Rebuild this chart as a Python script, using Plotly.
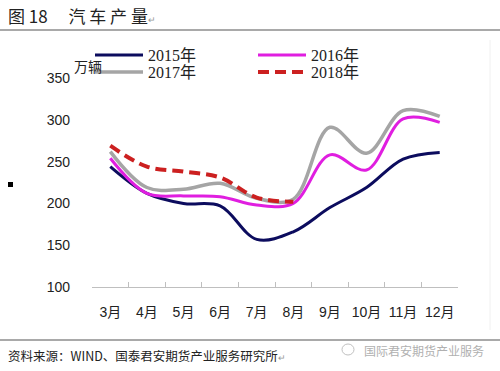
import plotly.graph_objects as go

months = ["3月", "4月", "5月", "6月", "7月", "8月", "9月", "10月", "11月", "12月"]
y2015 = [244, 212, 200, 197, 157, 166, 195, 219, 253, 261]
y2016 = [254, 212, 209, 208, 198, 200, 258, 240, 301, 297]
y2017 = [262, 219, 217, 224, 206, 205, 291, 260, 311, 304]
y2018 = [269, 244, 238, 231, 207, 202]
series_names = ["2015年", "2016年", "2017年", "2018年"]
yticks = [100, 150, 200, 250, 300, 350]

PT, PB, PL, PR = 78, 84, 92, 42
W, H = 500, 371
PW, PH = W - PL - PR, H - PT - PB


def px(x):
    return (x - PL) / PW


def py(y):
    return (H - PB - y) / PH


fig = go.Figure()
fig.add_trace(go.Scatter(x=months, y=y2015, name=series_names[0], mode="lines", legend="legend",
                         line=dict(color="#0c0c5e", width=3, shape="spline", smoothing=1)))
fig.add_trace(go.Scatter(x=months, y=y2016, name=series_names[1], mode="lines", legend="legend",
                         line=dict(color="#e01ee0", width=3, shape="spline", smoothing=1)))
fig.add_trace(go.Scatter(x=months, y=y2017, name=series_names[2], mode="lines", legend="legend2",
                         line=dict(color="#a5a5a5", width=3.5, shape="spline", smoothing=1)))
fig.add_trace(go.Scatter(x=months[:len(y2018)], y=y2018, name=series_names[3], mode="lines", legend="legend2",
                         line=dict(color="#cc2020", width=4, dash="11px,6px", shape="spline", smoothing=1)))

legend_common = dict(orientation="h", xanchor="left", yanchor="middle",
                     entrywidth=100, entrywidthmode="pixels", itemwidth=48,
                     font=dict(family="Liberation Serif, Noto Sans CJK SC", size=16, color="#222"),
                     bgcolor="rgba(0,0,0,0)", borderwidth=0)

fig.update_layout(
    width=W, height=H,
    margin=dict(l=PL, r=PR, t=PT, b=PB, autoexpand=False),
    paper_bgcolor="white", plot_bgcolor="white",
    showlegend=True,
    legend=dict(x=px(90), y=py(55), **legend_common),
    legend2=dict(x=px(90), y=py(72), **legend_common),
    xaxis=dict(showgrid=False, showline=True, linecolor="#bfbfbf", linewidth=1,
               ticks="inside", ticklen=5, tickcolor="#bfbfbf", tickson="boundaries",
               ticklabelstandoff=12, tickangle=0,
               tickfont=dict(family="Liberation Sans, Noto Sans CJK SC", size=14, color="#222"),
               range=[-0.5, 9.5]),
    yaxis=dict(showgrid=False, showline=False, zeroline=False, range=[100, 350],
               tickvals=yticks, ticks="", ticklabelstandoff=21,
               tickfont=dict(family="Liberation Sans", size=14, color="#222")),
)

# title and notes
fig.add_annotation(xref="paper", yref="paper", x=px(6), y=py(15), xanchor="left", yanchor="middle",
                   text="图 18　 汽 车 产 量<span style='font-size:9px;color:#999'>↵</span>", showarrow=False,
                   font=dict(family="Noto Sans CJK SC", size=17, color="#222"))
fig.add_annotation(xref="paper", yref="paper", x=px(104), y=py(66), xanchor="right", yanchor="middle",
                   text="万辆", showarrow=False,
                   font=dict(family="Noto Sans CJK SC", size=14, color="#222"))
fig.add_annotation(xref="paper", yref="paper", x=px(6), y=py(355), xanchor="left", yanchor="middle",
                   text="资料来源：WIND、国泰君安期货产业服务研究所<span style='font-size:9px;color:#999'>↵</span>",
                   showarrow=False, font=dict(family="Noto Sans CJK SC", size=12.5, color="#222"))
fig.add_annotation(xref="paper", yref="paper", x=px(486), y=py(350), xanchor="right", yanchor="middle",
                   text="国际君安期货产业服务", showarrow=False,
                   font=dict(family="Noto Sans CJK SC", size=12, color="#b0b0b0"))

# decorative separators
fig.add_shape(type="line", xref="paper", yref="paper", x0=px(0), x1=px(500),
              y0=py(30), y1=py(30), line=dict(color="#8c8c8c", width=1.5))
fig.add_shape(type="line", xref="paper", yref="paper", x0=px(0), x1=px(500),
              y0=py(340), y1=py(340), line=dict(color="#8c8c8c", width=1.5))
fig.add_shape(type="rect", xref="paper", yref="paper", x0=px(8), x1=px(13),
              y0=py(182), y1=py(187), fillcolor="black", line=dict(width=0))
fig.add_shape(type="circle", xref="paper", yref="paper", x0=px(342), x1=px(354),
              y0=py(344), y1=py(355), line=dict(color="#c0c0c0", width=1))
fig.add_shape(type="line", xref="paper", yref="paper", x0=px(490), x1=px(490),
              y0=py(40), y1=py(330), line=dict(color="#f0f0f0", width=1))

fig.write_html("out.html", config={"displayModeBar": False},
               post_script="document.body.style.margin='0';document.body.style.overflow='hidden';")
